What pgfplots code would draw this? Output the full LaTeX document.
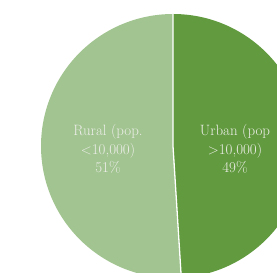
\documentclass[border=0pt]{standalone}
\usepackage{pgfplots}
\pgfplotsset{compat=1.18}
\usepackage{pgfplotstable}
\definecolor{rural}{HTML}{A1C490}
\definecolor{urban}{HTML}{629B3F}
\definecolor{lbl}{HTML}{EEEEEA}
\pgfplotstableread{
share
49
51
}\piedata
\begin{document}
\begin{tikzpicture}
\useasboundingbox (0,0) rectangle (277bp,273bp);
\pgfplotstablegetelem{0}{share}\of\piedata \let\urbanv\pgfplotsretval
\pgfplotstablegetelem{1}{share}\of\piedata \let\ruralv\pgfplotsretval
\pgfmathsetmacro{\aend}{90-3.6*\urbanv}
\begin{axis}[at={(0,0)},anchor=south west,scale only axis,
  x=1bp,y=1bp,xmin=0,xmax=277,ymin=0,ymax=273,hide axis,clip=true]
\fill[urban] (axis cs:173,127) -- (axis cs:173,259) arc[start angle=90,end angle=\aend,radius=132bp] -- cycle;
\fill[rural] (axis cs:173,127) -- ++(\aend:132bp) arc[start angle=\aend,end angle=-270,radius=132bp] -- cycle;
\draw[white,line width=1.3bp] (axis cs:173,259) -- (axis cs:173,127) -- ++(\aend:132bp);
\node[lbl,align=center,font=\fontsize{15}{18.5}\selectfont] at (axis cs:108,124) {Rural (pop.\\$<$10,000)\\\ruralv\%};
\node[lbl,align=center,font=\fontsize{15}{18.5}\selectfont] at (axis cs:235,124) {Urban (pop\\$>$10,000)\\\urbanv\%};
\end{axis}
\end{tikzpicture}
\end{document}
